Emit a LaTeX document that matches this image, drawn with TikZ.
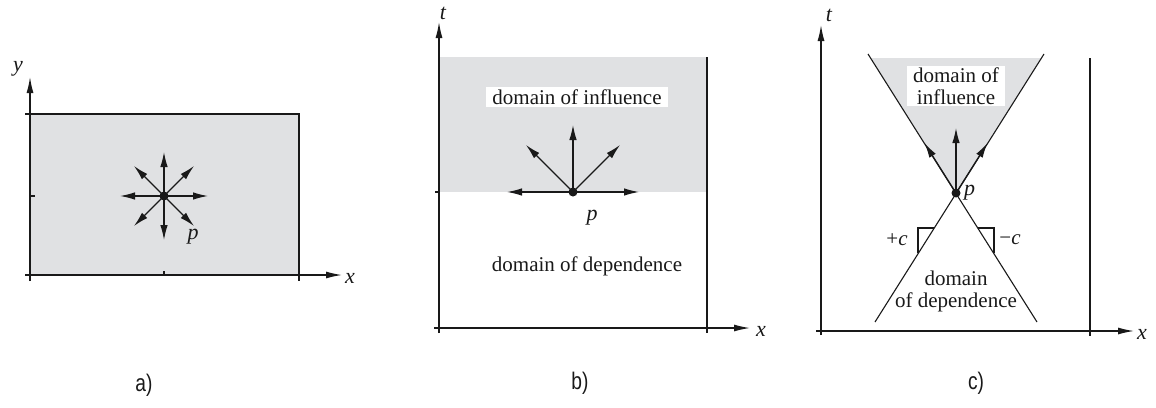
\documentclass[tikz,border=0pt]{standalone}
\usepackage{fontspec}
\setmainfont{Liberation Serif}
\newfontfamily\lblfont{Liberation Sans}
\usetikzlibrary{arrows.meta,calc}
\definecolor{gfill}{RGB}{224,225,227}
\definecolor{ink}{RGB}{25,25,25}
\tikzset{
  axisln/.style={line width=1.3pt, draw=ink, -{Latex[length=16pt,width=7pt]}},
  arr/.style={line width=1.2pt, draw=ink, -{Latex[length=15pt,width=7.5pt]}},
  plainln/.style={line width=1.1pt, draw=ink},
  dot/.style={circle, fill=ink, inner sep=0pt, minimum size=9pt},
  txt/.style={font=\fontsize{21}{22}\selectfont, inner sep=0pt, text=ink},
  itxt/.style={font=\fontsize{22}{22}\selectfont\itshape, inner sep=0pt, text=ink},
  wbox/.style={fill=white, font=\fontsize{21}{22}\selectfont, text=ink, inner xsep=6pt, inner ysep=3pt, align=center},
  caplbl/.style={font=\lblfont\fontsize{24}{26}\selectfont, inner sep=0pt, xscale=0.8, text=ink}
}
\begin{document}
\begin{tikzpicture}[x=1pt,y=-1pt]
\useasboundingbox (0,0) rectangle (1156,407);
% ---------------- panel a ----------------
\fill[gfill] (30,114) rectangle (299,275);
\coordinate (aYb) at (30,281);
\coordinate (aYt) at (30,77);
\coordinate (aXl) at (25,275);
\coordinate (aXr) at (342,275);
\coordinate (aTL) at (30,114);
\coordinate (aTR) at (299,114);
\coordinate (aBR) at (299,281);
\draw[plainln] (aTL) -- (aTR) -- (aBR);
\draw[plainln] (25,114) -- (aTL);
\draw[plainln] (30,196) -- (35,196);
\draw[plainln] (164,275) -- (164,271);
\draw[axisln] (aYb) -- (aYt);
\draw[axisln] (aXl) -- (aXr);
\node[itxt] (aylab) at (18,69) {y};
\node[itxt] (axlab) at (350,278) {x};
\node[dot] (pa) at (164,196) {};
\foreach \n/\dx/\dy in {1/0/-44, 2/0/44, 3/-44/0, 4/44/0, 5/-30/-30, 6/30/-30, 7/-30/30, 8/30/30} {
  \coordinate (a\n) at ($(164,196)+(\dx,\dy)$);
}
\foreach \n in {1,...,8} { \draw[arr] (pa.center) -- (a\n); }
\node[itxt] (plab) at (193,237) {p};
\node[caplbl] (capa) at (144,385) {a)};
% ---------------- panel b ----------------
\fill[gfill] (439,57) rectangle (707,192);
\coordinate (bYb) at (439,333);
\coordinate (bYt) at (439,22);
\coordinate (bXl) at (434,328);
\coordinate (bXr) at (750,328);
\coordinate (bRt) at (707,57);
\coordinate (bRb) at (707,333);
\draw[plainln] (bRt) -- (bRb);
\draw[plainln] (435,192) -- (439,192);
\draw[axisln] (bYb) -- (bYt);
\draw[axisln] (bXl) -- (bXr);
\node[itxt] (btlab) at (443,13) {t};
\node[itxt] (bxlab) at (761,331) {x};
\node[dot] (pb) at (573,192) {};
\coordinate (b1) at (573,125);
\coordinate (b2) at (507,192);
\coordinate (b3) at (639,192);
\coordinate (b4) at (526,145);
\coordinate (b5) at (620,145);
\foreach \n in {1,...,5} { \draw[arr] (pb.center) -- (b\n); }
\node[itxt] (pblab) at (592,218) {p};
\node[wbox] (binf) at (577,97) {domain of influence};
\node[txt] (bdep) at (587,266) {domain of dependence};
\node[caplbl] (capb) at (580,383) {b)};
% ---------------- panel c ----------------
\fill[gfill] (956,193) -- (871,58) -- (1041,58) -- cycle;
\coordinate (cYb) at (821,335);
\coordinate (cYt) at (821,25);
\coordinate (cXl) at (816,331);
\coordinate (cXr) at (1134,331);
\coordinate (cRt) at (1090,58);
\coordinate (cRb) at (1090,336);
\draw[plainln] (cRt) -- (cRb);
\draw[axisln] (cYb) -- (cYt);
\draw[axisln] (cXl) -- (cXr);
\node[itxt] (ctlab) at (829,15) {t};
\node[itxt] (cxlab) at (1142,334) {x};
\coordinate (ctl) at (868,54);
\coordinate (ctr) at (1044,54);
\coordinate (cbl) at (875,322);
\coordinate (cbr) at (1037,322);
\draw[plainln] (ctl) -- (cbr);
\draw[plainln] (ctr) -- (cbl);
\node[dot] (pc) at (956,193) {};
\coordinate (c1) at (924.5,143);
\coordinate (c2) at (956,128);
\coordinate (c3) at (987.5,143);
\foreach \n in {1,2,3} { \draw[arr] (pc.center) -- (c\n); }
\node[itxt, anchor=west] (pclab) at (964,193) {p};
\node[wbox, inner ysep=2pt] (cinf) at (956,86) {domain of\\influence};
\node[txt, align=center] (cdep) at (956,291) {domain\\of dependence};
\draw[plainln] (934,228) -- (918,228) -- (918,253);
\draw[plainln] (978,228) -- (994,228) -- (994,253);
\node[txt] (cplus) at (897,240) {+\textit{c}};
\node[txt] (cminus) at (1010,240) {−\textit{c}};
\node[caplbl] (capc) at (976,383) {c)};
\end{tikzpicture}
\end{document}
